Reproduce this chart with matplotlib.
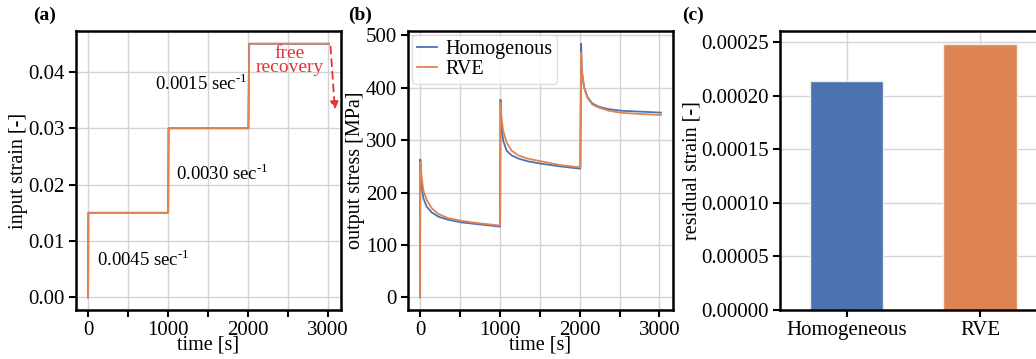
import matplotlib
matplotlib.use("Agg")
import matplotlib.pyplot as plt

# input strain history (panel a)
t_strain = [0, 3.33, 1003.33, 1008.33, 2008.33, 2018.33, 3018.33]
strain = [0, 0.015, 0.015, 0.030, 0.030, 0.045, 0.045]

# output stress (panel b)
t_stress = [0, 3.3, 22, 42, 84, 147, 229, 354, 522, 700, 850, 1003.3,
            1008.3, 1022, 1042, 1084, 1147, 1229, 1354, 1522, 1750, 2008.3,
            2018.3, 2026, 2034, 2055, 2097, 2159, 2242, 2367, 2534, 2750, 3018.3]
stress_hom = [0, 263, 211, 189, 173, 162, 154, 148, 143, 140, 137.5, 135,
              377, 324, 299, 280, 271, 265, 259.5, 255, 250, 245.5,
              484, 439, 424, 401.5, 382.5, 370, 363.5, 359, 356, 354.5, 352.5]
stress_rve = [0, 258, 227, 204, 186, 170, 159, 151, 146, 142, 139.5, 137,
              372, 340, 318, 296, 280, 271, 264.5, 259.5, 252.5, 248,
              468, 436, 424, 400, 381, 368, 362, 356, 352, 350, 348]

# residual strain (panel c)
models = ["Homogeneous", "RVE"]
residual = [0.0002136, 0.0002478]

rate_labels = [r"0.0045 sec$^{\text{-}1}$", r"0.0030 sec$^{\text{-}1}$",
               r"0.0015 sec$^{\text{-}1}$"]

blue = "#4c72b0"
orange = "#dd8452"
red = "#e8303a"

plt.rcParams["font.family"] = ["Liberation Serif", "DejaVu Serif"]
plt.rcParams["mathtext.fontset"] = "custom"
plt.rcParams["mathtext.rm"] = "Liberation Serif"
plt.rcParams["font.size"] = 14.5

fig = plt.figure(figsize=(10.36, 3.59), dpi=100)
ax_a = fig.add_axes([0.0734, 0.1365, 0.2558, 0.777])
ax_b = fig.add_axes([0.3938, 0.1365, 0.2558, 0.777])
ax_c = fig.add_axes([0.7529, 0.1365, 0.2574, 0.777])


def style(ax):
    ax.grid(True, color="#d4d4d4", linewidth=1.0)
    ax.set_axisbelow(True)
    for sp in ax.spines.values():
        sp.set_linewidth(1.8)
        sp.set_color("black")
    ax.tick_params(direction="out", length=5, width=1.5, labelsize=15, pad=3)


# (a) input strain
style(ax_a)
ax_a.plot(t_strain, strain, color=blue, lw=1.3)
ax_a.plot(t_strain, strain, color=orange, lw=1.3)
ax_a.set_xticks(range(0, 3001, 500))
ax_a.set_xticklabels(["0", "", "1000", "", "2000", "", "3000"])
ax_a.set_yticks([0, 0.01, 0.02, 0.03, 0.04])
ax_a.set_xlabel("time [s]", labelpad=-3)
ax_a.set_ylabel("input strain [-]", labelpad=0)
ax_a.text(108, 0.0067, rate_labels[0], fontsize=13.5, va="center")
ax_a.text(1100, 0.0219, rate_labels[1], fontsize=13.5, va="center")
ax_a.text(837, 0.0380, rate_labels[2], fontsize=13.5, va="center")
ax_a.text(2530, 0.0420, "free\nrecovery", color=red, fontsize=14,
          ha="center", va="center", linespacing=0.8)
ax_a.annotate("", xy=(3095, 0.0328), xytext=(3035, 0.0450),
              arrowprops=dict(arrowstyle="-|>", linestyle=(0, (4, 3)),
                              color=red, lw=1.3, mutation_scale=12))
ax_a.text(-0.162, 1.057, "(a)", transform=ax_a.transAxes, fontsize=14,
          fontweight="bold", ha="left", va="center")

# (b) output stress
style(ax_b)
ax_b.plot(t_stress, stress_hom, color=blue, lw=1.3, label="Homogenous")
ax_b.plot(t_stress, stress_rve, color=orange, lw=1.3, label="RVE")
ax_b.set_xticks(range(0, 3001, 500))
ax_b.set_xticklabels(["0", "", "1000", "", "2000", "", "3000"])
ax_b.set_yticks(range(0, 501, 100))
ax_b.set_xlabel("time [s]", labelpad=-3)
ax_b.set_ylabel("output stress [MPa]", labelpad=0.5)
ax_b.legend(loc="upper left", fontsize=14.5, handlelength=1.0,
            handletextpad=0.4, labelspacing=0.05, borderpad=0.25,
            borderaxespad=0.2, framealpha=0.8, edgecolor="#d8d8d8")
ax_b.text(-0.226, 1.057, "(b)", transform=ax_b.transAxes, fontsize=14,
          fontweight="bold", ha="left", va="center")

# (c) residual strain
style(ax_c)
ax_c.bar(range(len(models)), residual, width=0.55, color=[blue, orange],
         edgecolor="#eeeeee", linewidth=1.0)
ax_c.set_xticks(range(len(models)))
ax_c.set_xticklabels(models)
ax_c.set_xlim(-0.5, 1.5)
ax_c.set_yticks([0, 0.00005, 0.0001, 0.00015, 0.0002, 0.00025])
ax_c.set_yticklabels(["0.00000", "0.00005", "0.00010", "0.00015",
                      "0.00020", "0.00025"])
ax_c.set_ylabel("residual strain [-]", labelpad=0)
ax_c.text(-0.367, 1.057, "(c)", transform=ax_c.transAxes, fontsize=14,
          fontweight="bold", ha="left", va="center")

fig.savefig("out.png", dpi=100)
